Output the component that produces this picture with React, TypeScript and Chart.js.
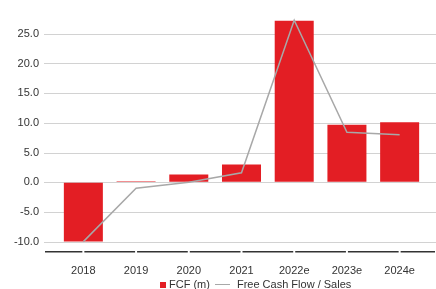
import React, { useEffect, useRef } from 'react';
import { Chart, registerables } from 'chart.js';

Chart.register(...registerables);

const categories = ['2018', '2019', '2020', '2021', '2022e', '2023e', '2024e'];
const fcfValues = [-10.0, 0.1, 1.3, 3.0, 27.2, 9.7, 10.1];
const fcfToSales = [-10.0, -1.0, 0.0, 1.6, 27.3, 8.4, 8.0];
const yTickValues = [-10, -5, 0, 5, 10, 15, 20, 25];
const seriesNames = ['FCF (m)', 'Free Cash Flow / Sales'];

const RED = '#e31e24';
const GRAY = '#a8a8a8';
const TEXT = '#333333';
const FONT = "'Liberation Sans', Arial, Helvetica, sans-serif";

const gridPlugin = {
  id: 'customGrid',
  beforeDatasetsDraw(chart: any) {
    const { ctx, chartArea, scales } = chart;
    const y = scales.y;
    const x = scales.x;
    ctx.save();
    ctx.strokeStyle = '#d2d2d2';
    ctx.lineWidth = 1;
    for (const v of yTickValues) {
      const py = Math.round(y.getPixelForValue(v)) + 0.5;
      ctx.beginPath();
      ctx.moveTo(chartArea.left - 13, py);
      ctx.lineTo(chart.width, py);
      ctx.stroke();
    }
    // bottom axis line with small gaps at category centers
    const by = chartArea.bottom;
    ctx.strokeStyle = '#333333';
    ctx.lineWidth = 1.5;
    const left = chartArea.left - 12;
    const right = chart.width - 1;
    let start = left;
    for (let i = 0; i < categories.length; i++) {
      const c = x.getPixelForValue(i);
      ctx.beginPath();
      ctx.moveTo(start, by);
      ctx.lineTo(c - 1, by);
      ctx.stroke();
      start = c + 1;
    }
    ctx.beginPath();
    ctx.moveTo(start, by);
    ctx.lineTo(right, by);
    ctx.stroke();
    ctx.restore();
  },
};

export default function App() {
  const canvasRef = useRef<HTMLCanvasElement | null>(null);

  useEffect(() => {
    document.body.style.margin = '0';
    const canvas = canvasRef.current;
    if (!canvas) return;
    const chart = new Chart(canvas, {
      type: 'bar',
      data: {
        labels: categories,
        datasets: [
          {
            type: 'bar',
            label: seriesNames[0],
            data: fcfValues,
            backgroundColor: RED,
            borderWidth: 0,
            barPercentage: 0.74,
            categoryPercentage: 1.0,
            minBarLength: 1,
            order: 1,
          },
          {
            type: 'line',
            label: seriesNames[1],
            data: fcfToSales,
            borderColor: GRAY,
            borderWidth: 1.5,
            pointRadius: 0,
            tension: 0,
            fill: false,
            order: 0,
          } as any,
        ],
      },
      options: {
        responsive: true,
        maintainAspectRatio: false,
        animation: false,
        layout: { padding: { top: 16, right: 10, bottom: 0, left: 0 } },
        plugins: {
          legend: { display: false },
          tooltip: { enabled: false },
        },
        scales: {
          x: {
            grid: { display: false },
            border: { display: false },
            ticks: {
              color: TEXT,
              font: { family: FONT, size: 11 },
              padding: 5,
              maxRotation: 0,
            },
            afterFit: (scale: any) => {
              scale.height = 37.3;
            },
          },
          y: {
            min: -11.7,
            max: 28,
            grid: {
              display: true,
              drawOnChartArea: false,
              drawTicks: true,
              tickLength: 18,
              color: 'rgba(0,0,0,0)',
            },
            border: { display: false },
            ticks: {
              color: TEXT,
              font: { family: FONT, size: 11 },
              padding: 0,
              callback: (v: any) => Number(v).toFixed(1),
            },
            afterBuildTicks: (scale: any) => {
              scale.ticks = yTickValues.map((v) => ({ value: v }));
            },
            afterFit: (scale: any) => {
              scale.width = 57;
            },
          },
        },
      },
      plugins: [gridPlugin],
    });
    return () => chart.destroy();
  }, []);

  return (
    <div style={{ position: 'fixed', left: 0, top: 0, width: 436, height: 289, background: '#fff' }}>
      <canvas ref={canvasRef} />
      <div
        style={{
          position: 'absolute',
          left: 160,
          top: 278,
          display: 'flex',
          alignItems: 'center',
          fontFamily: FONT,
          fontSize: 11,
          lineHeight: '13px',
          color: TEXT,
          whiteSpace: 'nowrap',
        }}
      >
        <span style={{ display: 'inline-block', width: 6, height: 6, background: RED, marginRight: 3 }} />
        <span>{seriesNames[0]}</span>
        <span style={{ display: 'inline-block', width: 15, height: 1.5, background: GRAY, marginLeft: 5, marginRight: 7 }} />
        <span>{seriesNames[1]}</span>
      </div>
    </div>
  );
}
